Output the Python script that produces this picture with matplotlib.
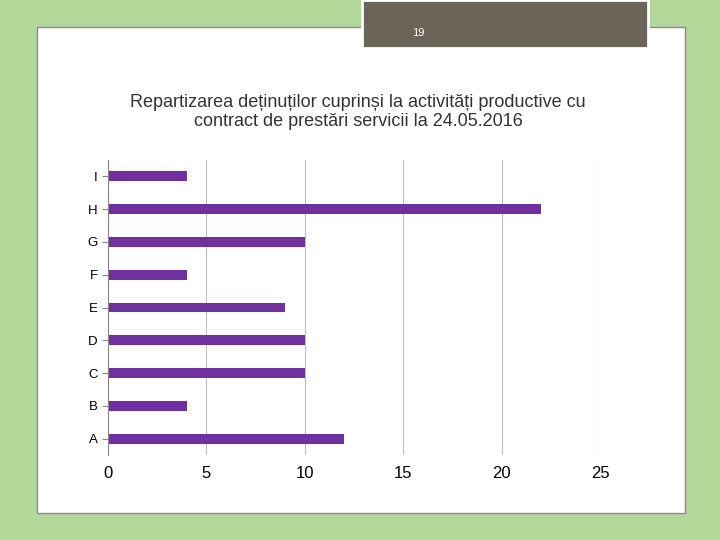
import matplotlib.pyplot as plt
from matplotlib.patches import Rectangle

plt.rcParams['font.family'] = 'Liberation Sans'

categories = ['A', 'B', 'C', 'D', 'E', 'F', 'G', 'H', 'I']
values = [12, 4, 10, 10, 9, 4, 10, 22, 4]
xticks = [0, 5, 10, 15, 20, 25]

fig = plt.figure(figsize=(7.2, 5.4), dpi=100)
fig.patch.set_facecolor('#b3d89a')

# white slide panel
fig.patches.append(Rectangle((37/720, 1-513/540), 648/720, 486/540, transform=fig.transFigure,
                             facecolor='white', edgecolor='#8a8a8a', linewidth=1, zorder=-2))
# page number box
fig.patches.append(Rectangle((362/720, 1-48/540), 286/720, 48/540, transform=fig.transFigure,
                             facecolor='#6b6458', edgecolor='white', linewidth=2, zorder=-1))
fig.text(418/720, 1-33/540, '19', color='white', fontsize=8, ha='center', va='center')

ax = fig.add_axes([108/720, 1-455/540, 492/720, 295/540])
ax.set_zorder(5)
ax.set_facecolor('none')
ax.barh(range(len(categories)), values, height=0.3, color='#7030a0')
ax.set_xlim(0, 25)
ax.set_ylim(-0.5, len(categories) - 0.5)
ax.set_xticks(xticks)
ax.set_xticklabels([str(t) for t in xticks], fontsize=12)
ax.set_yticks(range(len(categories)))
ax.set_yticklabels(categories, fontsize=9.5)
ax.xaxis.grid(True, color='#bfbfbf', linewidth=0.8)
ax.set_axisbelow(True)
for s in ['top', 'right', 'bottom']:
    ax.spines[s].set_visible(False)
ax.spines['left'].set_color('#888888')
ax.tick_params(axis='x', length=0, pad=8)
ax.tick_params(axis='y', length=4, color='#888888')

fig.text(358/720, 1-112/540,
         'Repartizarea deținuților cuprinși la activități productive cu\ncontract de prestări servicii la 24.05.2016',
         ha='center', va='center', fontsize=13, color='#333333', linespacing=1.2)

fig.savefig('out.png', dpi=100, facecolor=fig.get_facecolor())
